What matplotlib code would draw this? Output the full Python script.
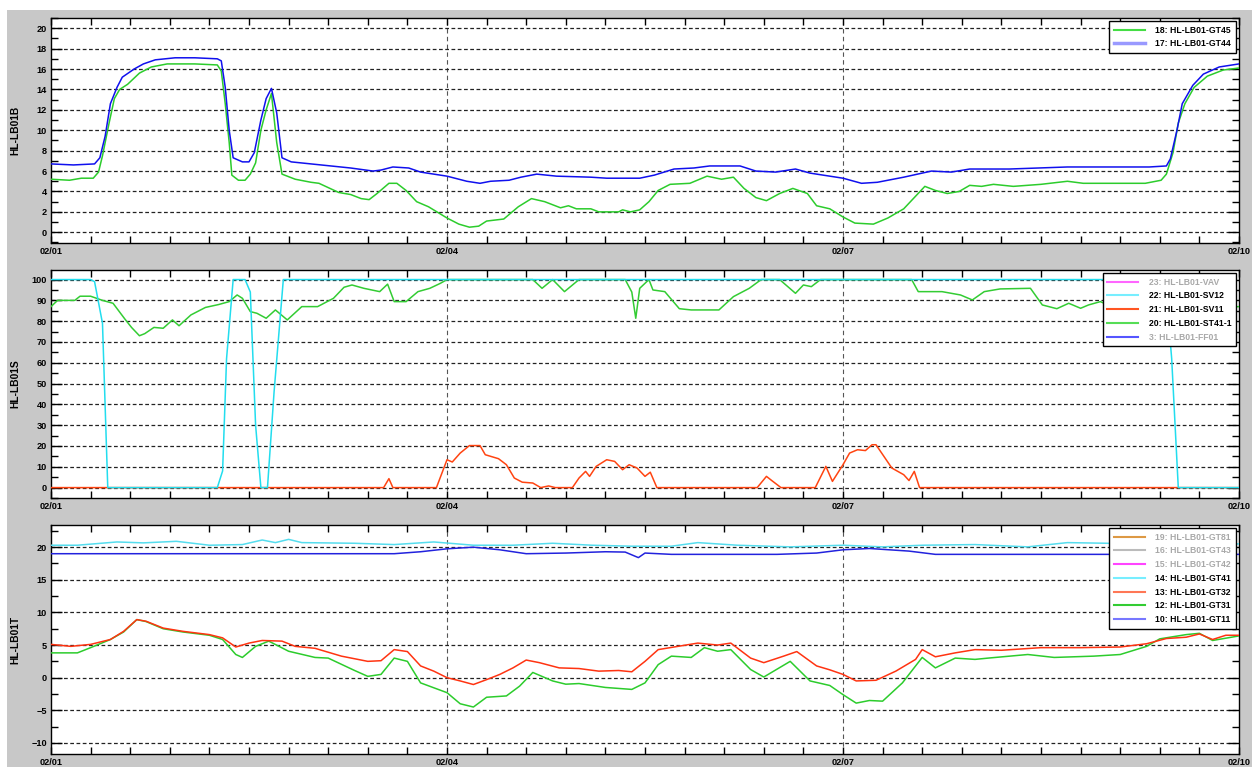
import numpy as np
import matplotlib
matplotlib.use("Agg")
import matplotlib.pyplot as plt
from matplotlib.lines import Line2D
from matplotlib.patches import Rectangle
from matplotlib.ticker import MultipleLocator, FixedLocator

plt.rcParams['font.family'] = ['Liberation Sans', 'DejaVu Sans']
plt.rcParams['font.weight'] = 'bold'

# x axis: days since 02/01
day_ticks = [0, 3, 6, 9]
day_labels = ['02/01', '02/04', '02/07', '02/10']

# ---- panel 1: HL-LB01B ----
t_gt45 = [0, 0.14, 0.23, 0.32, 0.36, 0.39, 0.44, 0.48, 0.52, 0.58, 0.67, 0.76, 0.88, 1.09, 1.26, 1.29,
          1.32, 1.35, 1.37, 1.42, 1.47, 1.51, 1.55, 1.59, 1.63, 1.67, 1.71, 1.75, 1.85, 1.97, 2.03, 2.18,
          2.27, 2.35, 2.41, 2.47, 2.56, 2.62, 2.69, 2.77, 2.86, 3.0, 3.09, 3.17, 3.24, 3.30, 3.43, 3.54,
          3.64, 3.74, 3.86, 3.92, 3.98, 4.09, 4.15, 4.30, 4.33, 4.39, 4.46, 4.53, 4.60, 4.69, 4.84, 4.97,
          5.08, 5.17, 5.25, 5.34, 5.42, 5.52, 5.62, 5.73, 5.80, 5.90, 6.0, 6.09, 6.23, 6.34, 6.46, 6.62,
          6.70, 6.79, 6.88, 6.96, 7.05, 7.14, 7.29, 7.50, 7.70, 7.82, 8.09, 8.29, 8.41, 8.45, 8.50, 8.54,
          8.59, 8.66, 8.76, 8.88, 9.0]
v_gt45 = [5.2, 5.1, 5.3, 5.3, 5.9, 7.5, 10.7, 13.1, 14.0, 14.5, 15.6, 16.2, 16.5, 16.5, 16.4, 15.8,
          12.6, 8.8, 5.6, 5.1, 5.1, 5.7, 6.8, 10.0, 12.0, 13.6, 8.8, 5.7, 5.2, 4.9, 4.8, 3.9,
          3.7, 3.3, 3.2, 3.8, 4.8, 4.8, 4.1, 3.0, 2.5, 1.4, 0.8, 0.5, 0.6, 1.1, 1.3, 2.5,
          3.3, 3.0, 2.4, 2.6, 2.3, 2.3, 2.0, 2.0, 2.2, 2.0, 2.2, 3.0, 4.1, 4.7, 4.8, 5.5,
          5.2, 5.4, 4.3, 3.4, 3.1, 3.8, 4.3, 3.8, 2.6, 2.3, 1.5, 0.9, 0.8, 1.4, 2.3, 4.5,
          4.1, 3.8, 4.0, 4.6, 4.5, 4.7, 4.5, 4.7, 5.0, 4.8, 4.8, 4.8, 5.1, 5.7, 7.8, 10.7,
          12.6, 14.2, 15.3, 15.9, 16.1]

t_gt44 = [0, 0.17, 0.33, 0.37, 0.41, 0.45, 0.50, 0.54, 0.63, 0.70, 0.79, 0.94, 1.09, 1.26, 1.29, 1.32,
          1.35, 1.38, 1.45, 1.50, 1.54, 1.59, 1.63, 1.67, 1.71, 1.75, 1.82, 1.97, 2.12, 2.27, 2.44, 2.50,
          2.59, 2.71, 2.80, 3.0, 3.15, 3.25, 3.33, 3.47, 3.56, 3.68, 3.83, 4.09, 4.21, 4.46, 4.57, 4.72,
          4.87, 4.99, 5.22, 5.34, 5.49, 5.64, 5.75, 6.0, 6.14, 6.26, 6.46, 6.67, 6.82, 6.96, 7.26, 7.70,
          8.0, 8.32, 8.45, 8.48, 8.53, 8.57, 8.65, 8.73, 8.85, 9.0]
v_gt44 = [6.7, 6.6, 6.7, 7.3, 9.4, 12.6, 14.2, 15.2, 16.0, 16.5, 16.9, 17.1, 17.1, 17.0, 16.8, 14.2,
          10.0, 7.3, 6.9, 6.9, 7.8, 11.0, 13.1, 14.1, 11.7, 7.3, 6.9, 6.7, 6.5, 6.3, 6.0, 6.1,
          6.4, 6.3, 5.9, 5.5, 5.0, 4.8, 5.0, 5.1, 5.4, 5.7, 5.5, 5.4, 5.3, 5.3, 5.6, 6.2,
          6.3, 6.5, 6.5, 6.0, 5.9, 6.2, 5.8, 5.3, 4.8, 4.9, 5.4, 6.0, 5.9, 6.2, 6.2, 6.4,
          6.4, 6.4, 6.5, 7.2, 10.0, 12.6, 14.4, 15.5, 16.2, 16.5]

# ---- panel 2: HL-LB01S ----
t_sv12 = [0, 0.30, 0.33, 0.39, 0.43, 1.26, 1.30, 1.33, 1.38, 1.47, 1.51, 1.55, 1.59, 1.64, 1.69, 1.76,
          8.44, 8.49, 8.54, 9.0]
v_sv12 = [100, 100, 99, 79, 0, 0, 8, 62, 100, 100, 94, 30, 0, 0, 46, 100,
          100, 62, 0, 0]

t_sv11 = [0, 2.49, 2.52, 2.56, 2.59, 2.92, 3.0, 3.04, 3.10, 3.17, 3.25, 3.29, 3.39, 3.45, 3.51, 3.57,
          3.65, 3.71, 3.77, 3.82, 3.95, 4.0, 4.05, 4.08, 4.13, 4.21, 4.27, 4.33, 4.38, 4.44, 4.50, 4.54,
          4.59, 5.35, 5.42, 5.46, 5.53, 5.79, 5.87, 5.92, 6.0, 6.05, 6.11, 6.17, 6.22, 6.25, 6.31, 6.37,
          6.46, 6.50, 6.54, 6.58, 9.0]
v_sv11 = [0, 0, 0, 4.3, 0, 0, 13.4, 12.3, 16.6, 20.2, 20.2, 15.8, 13.9, 11, 4.6, 2.6,
          2.2, 0, 0.8, 0, 0, 4.6, 7.8, 5.4, 10.2, 13.4, 12.6, 8.6, 11, 9.4, 5.4, 7.4,
          0, 0, 5.4, 3.4, 0, 0, 10.2, 3, 11, 16.6, 18.2, 17.8, 20.6, 20.6, 15, 9.4,
          6.2, 3.4, 7.8, 0, 0]

t_st41 = [0, 0.05, 0.18, 0.22, 0.30, 0.39, 0.47, 0.56, 0.61, 0.67, 0.71, 0.78, 0.85, 0.92, 0.97, 1.06,
          1.17, 1.27, 1.35, 1.41, 1.45, 1.51, 1.56, 1.63, 1.70, 1.79, 1.90, 2.02, 2.14, 2.22, 2.28, 2.37,
          2.49, 2.55, 2.60, 2.69, 2.78, 2.87, 2.95, 3.0, 3.65, 3.72, 3.80, 3.89, 4.0, 4.35, 4.40, 4.43,
          4.46, 4.53, 4.56, 4.65, 4.76, 4.85, 5.06, 5.17, 5.29, 5.38, 5.52, 5.64, 5.70, 5.76, 5.83, 6.52,
          6.57, 6.75, 6.89, 6.98, 7.07, 7.19, 7.42, 7.51, 7.62, 7.71, 7.80, 7.86, 7.95, 8.0, 8.3, 8.6, 9.0]
v_st41 = [87, 90, 90, 92, 92, 90, 88.6, 81, 77, 73, 74, 77, 76.6, 80.6, 77.8, 83,
          86.6, 88, 89.4, 92.6, 91, 84.6, 83.8, 81.4, 85.4, 80.6, 87, 87, 91, 96.3, 97.4, 95.8,
          94.2, 97.8, 89.4, 89.4, 94.2, 95.8, 98.2, 100, 100, 95.8, 100, 94.2, 100, 100, 94, 81.4,
          95.8, 100, 95, 94.2, 86, 85.4, 85.4, 91.8, 95.8, 100, 100, 93.4, 97.4, 96.6, 100, 100,
          94.2, 94.2, 92.6, 90.2, 94.2, 95.5, 95.8, 87.8, 86, 88.6, 86.2, 87.8, 89.4, 88, 85, 86, 87]

# ---- panel 3: HL-LB01T ----
t_gt41 = [0, 0.2, 0.5, 0.7, 0.95, 1.2, 1.45, 1.6, 1.7, 1.8, 1.9, 2.3, 2.6, 2.9, 3.2, 3.5,
          3.8, 4.1, 4.4, 4.7, 4.9, 5.2, 5.6, 6.0, 6.3, 6.6, 7.0, 7.4, 7.7, 8.0, 8.3, 8.6, 9.0]
v_gt41 = [20.3, 20.3, 20.8, 20.66, 20.9, 20.3, 20.4, 21.1, 20.7, 21.2, 20.7, 20.6, 20.4, 20.8, 20.3, 20.3,
          20.6, 20.3, 20.15, 20.15, 20.7, 20.3, 20.05, 20.3, 20.05, 20.3, 20.4, 20.05, 20.7, 20.6, 20.4, 20.5, 20.5]

t_gt11 = [0, 1.5, 2.6, 2.8, 3.0, 3.2, 3.4, 3.6, 3.9, 4.2, 4.35, 4.45, 4.5, 4.7, 5.5, 5.8,
          6.0, 6.2, 6.5, 6.7, 9.0]
v_gt11 = [19.0, 19.0, 19.0, 19.3, 19.75, 20.0, 19.6, 19.0, 19.1, 19.3, 19.25, 18.4, 19.1, 18.9, 18.9, 19.1,
          19.6, 19.8, 19.4, 18.9, 18.9]

t_gt32 = [0, 0.15, 0.3, 0.45, 0.55, 0.65, 0.72, 0.85, 1.0, 1.2, 1.3, 1.4, 1.5, 1.6, 1.75, 1.85,
          2.0, 2.2, 2.4, 2.5, 2.6, 2.7, 2.8, 2.9, 3.0, 3.1, 3.2, 3.3, 3.4, 3.5, 3.6, 3.7,
          3.85, 4.0, 4.15, 4.3, 4.4, 4.5, 4.6, 4.75, 4.9, 5.05, 5.15, 5.3, 5.4, 5.55, 5.65, 5.8,
          5.9, 6.0, 6.1, 6.25, 6.4, 6.55, 6.6, 6.7, 6.85, 7.0, 7.2, 7.5, 7.8, 8.1, 8.3, 8.45,
          8.6, 8.7, 8.8, 8.9, 9.0]
v_gt32 = [5.1, 4.8, 5.1, 5.85, 7.1, 8.9, 8.65, 7.6, 7.1, 6.6, 6.1, 4.7, 5.3, 5.7, 5.6, 4.8,
          4.5, 3.3, 2.5, 2.6, 4.3, 4.0, 1.8, 1.0, 0.0, -0.5, -1.05, -0.3, 0.5, 1.5, 2.7, 2.3,
          1.5, 1.4, 1.0, 1.1, 0.9, 2.5, 4.3, 4.8, 5.3, 5.0, 5.3, 3.0, 2.3, 3.3, 4.0, 1.8,
          1.2, 0.5, -0.5, -0.4, 1.0, 2.8, 4.3, 3.2, 3.8, 4.3, 4.2, 4.6, 4.6, 4.7, 5.2, 6.0,
          6.2, 6.7, 5.85, 6.5, 6.5]

t_gt31 = [0, 0.2, 0.3, 0.45, 0.55, 0.65, 0.72, 0.85, 1.0, 1.2, 1.3, 1.4, 1.45, 1.55, 1.65, 1.8,
          2.0, 2.1, 2.3, 2.4, 2.5, 2.6, 2.7, 2.8, 3.0, 3.1, 3.2, 3.3, 3.45, 3.55, 3.65, 3.8,
          3.9, 4.0, 4.2, 4.4, 4.5, 4.6, 4.7, 4.85, 4.95, 5.05, 5.15, 5.3, 5.4, 5.6, 5.75, 5.9,
          6.0, 6.1, 6.2, 6.3, 6.45, 6.6, 6.7, 6.85, 7.0, 7.1, 7.4, 7.6, 7.9, 8.1, 8.3, 8.4,
          8.6, 8.7, 8.8, 9.0]
v_gt31 = [3.8, 3.8, 4.6, 5.85, 7.0, 8.9, 8.6, 7.5, 7.0, 6.5, 5.85, 3.55, 3.1, 4.8, 5.6, 4.05,
          3.1, 3.0, 1.1, 0.2, 0.5, 3.0, 2.5, -0.8, -2.3, -4.0, -4.5, -3.0, -2.8, -1.3, 0.8, -0.5,
          -1.0, -0.9, -1.5, -1.8, -0.8, 2.0, 3.3, 3.1, 4.6, 4.05, 4.3, 1.25, 0.1, 2.5, -0.5, -1.2,
          -2.6, -3.9, -3.5, -3.6, -0.8, 3.1, 1.5, 3.0, 2.8, 3.0, 3.55, 3.1, 3.3, 3.55, 4.8, 5.95,
          6.6, 6.8, 5.7, 6.4]

W, H = 1257, 767
fig = plt.figure(figsize=(W / 100, H / 100), dpi=100)
fig.patch.set_facecolor('white')
fig.patches.append(Rectangle((7 / W, 0), 1245 / W, 757 / H, transform=fig.transFigure,
                             facecolor='#c8c8c8', edgecolor='none', zorder=-10))


def make_axes(top, bottom):
    ax = fig.add_axes([51 / W, (H - bottom) / H, 1188 / W, (bottom - top) / H])
    ax.set_facecolor('white')
    ax.set_xlim(0, 9)
    ax.xaxis.set_major_locator(FixedLocator(day_ticks))
    ax.set_xticklabels(day_labels)
    ax.xaxis.set_minor_locator(MultipleLocator(0.3))
    ax.tick_params(which='both', direction='in', top=True, right=True, labelsize=6.6,
                   width=1, pad=3)
    ax.tick_params(axis='x', which='both', length=5)
    ax.tick_params(axis='y', which='major', length=8)
    ax.tick_params(axis='y', which='minor', length=5)
    ax.grid(axis='y', which='major', color='#222222', linestyle=(0, (3, 2)), linewidth=0.9)
    for d in day_ticks[1:-1]:
        ax.axvline(d, color='#555555', linestyle=(0, (4, 3)), linewidth=0.8, zorder=1)
    for s in ax.spines.values():
        s.set_linewidth(1)
    return ax


def add_legend(ax, handles, labels, active):
    leg = ax.legend(handles, labels, loc='upper right', fontsize=6.2, fancybox=False,
                    edgecolor='black', framealpha=1, borderaxespad=0.35, handlelength=3.6,
                    handletextpad=1.2, labelspacing=0.55, borderpad=0.55)
    leg.get_frame().set_linewidth(1)
    for txt, a in zip(leg.get_texts(), active):
        txt.set_color('black' if a else '#a8a8a8')
    return leg


# panel 1
ax1 = make_axes(18, 243)
ax1.set_ylim(-1.05, 21)
ax1.yaxis.set_major_locator(MultipleLocator(2))
ax1.yaxis.set_minor_locator(MultipleLocator(1))
ax1.plot(t_gt45, v_gt45, color='#2ccc2c', lw=1.1, zorder=3)
ax1.plot(t_gt44, v_gt44, color='#1010ee', lw=1.1, zorder=3)
add_legend(ax1,
           [Line2D([], [], color='#44dd44', lw=1.5), Line2D([], [], color='#9999ff', lw=2.5)],
           ['18: HL-LB01-GT45', '17: HL-LB01-GT44'], [True, True])

# panel 2
ax2 = make_axes(270, 498)
ax2.set_ylim(-5, 104.6)
ax2.yaxis.set_major_locator(MultipleLocator(10))
ax2.yaxis.set_minor_locator(MultipleLocator(5))
ax2.plot(t_st41, v_st41, color='#33cc33', lw=1.1, zorder=3)
ax2.plot(t_sv11, v_sv11, color='#ff4411', lw=1.1, zorder=3)
ax2.plot(t_sv12, v_sv12, color='#22ddee', lw=1.1, zorder=4)
add_legend(ax2,
           [Line2D([], [], color='#ff66ff', lw=1.5), Line2D([], [], color='#77eeff', lw=1.5),
            Line2D([], [], color='#ff5522', lw=1.5), Line2D([], [], color='#55dd55', lw=1.5),
            Line2D([], [], color='#5555ff', lw=1.5)],
           ['23: HL-LB01-VAV', '22: HL-LB01-SV12', '21: HL-LB01-SV11', '20: HL-LB01-ST41-1',
            '3: HL-LB01-FF01'], [False, True, True, True, False])

# panel 3
ax3 = make_axes(525, 754)
ax3.set_ylim(-11.7, 23.4)
ax3.yaxis.set_major_locator(MultipleLocator(5))
ax3.yaxis.set_minor_locator(MultipleLocator(2.5))
ax3.plot(t_gt41, v_gt41, color='#55ddee', lw=1.1, zorder=3)
ax3.plot(t_gt11, v_gt11, color='#2222dd', lw=1.1, zorder=3)
ax3.plot(t_gt31, v_gt31, color='#2ccc2c', lw=1.1, zorder=3)
ax3.plot(t_gt32, v_gt32, color='#ff3311', lw=1.1, zorder=3)
add_legend(ax3,
           [Line2D([], [], color='#dd9944', lw=1.5), Line2D([], [], color='#bbbbbb', lw=1.5),
            Line2D([], [], color='#ff44ff', lw=1.5), Line2D([], [], color='#77eeff', lw=1.5),
            Line2D([], [], color='#ff7755', lw=1.5), Line2D([], [], color='#33cc33', lw=1.5),
            Line2D([], [], color='#7777ff', lw=1.5)],
           ['19: HL-LB01-GT81', '16: HL-LB01-GT43', '15: HL-LB01-GT42', '14: HL-LB01-GT41',
            '13: HL-LB01-GT32', '12: HL-LB01-GT31', '10: HL-LB01-GT11'],
           [False, False, False, True, True, True, True])

for ax, name in [(ax1, 'HL-LB01B'), (ax2, 'HL-LB01S'), (ax3, 'HL-LB01T')]:
    pos = ax.get_position()
    fig.text(15 / W, pos.y0 + pos.height / 2, name, rotation=90, ha='center', va='center',
             fontsize=7.4, fontweight='bold')

fig.savefig('out.png', dpi=100)
